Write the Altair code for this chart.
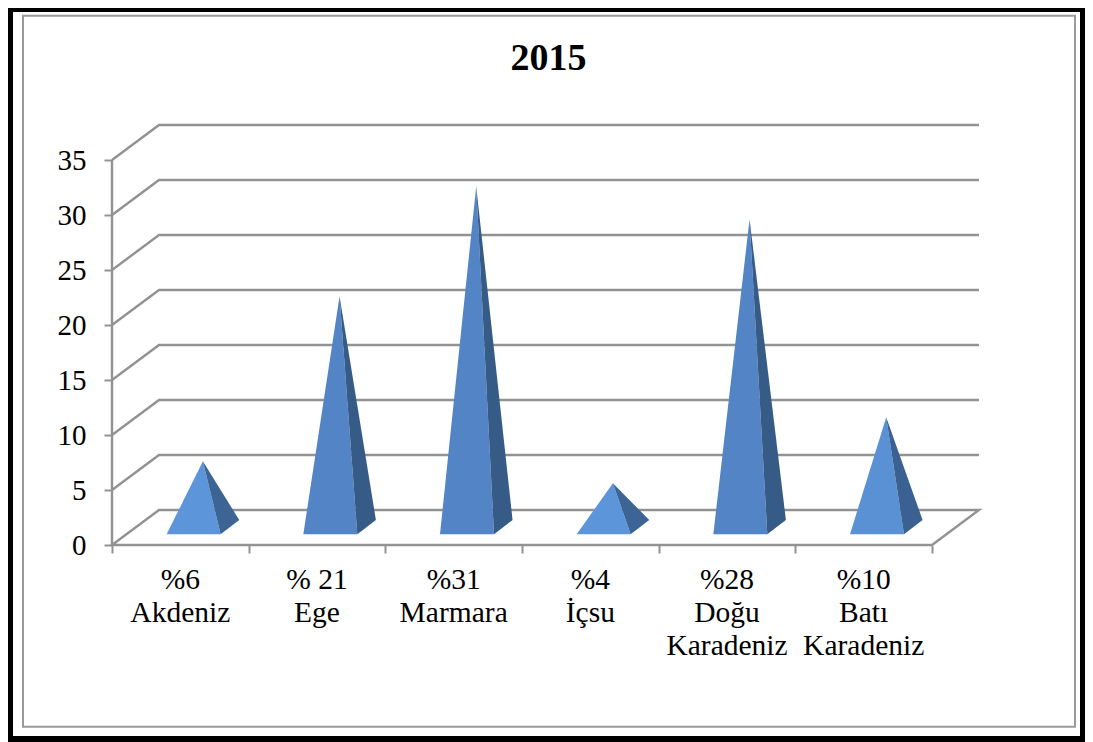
import altair as alt
import pandas as pd

names = ["Akdeniz", "Ege", "Marmara", "İçsu", "Doğu Karadeniz", "Batı Karadeniz"]
values = [6, 21, 31, 4, 28, 10]
labels = ["%6\nAkdeniz", "% 21\nEge", "%31\nMarmara", "%4\nİçsu", "%28\nDoğu\nKaradeniz", "%10\nBatı\nKaradeniz"]
y_ticks = [0, 5, 10, 15, 20, 25, 30, 35]
x_ticks = [0, 1, 2, 3, 4, 5, 6]
front_colors = ["#5c95d9", "#5284c6", "#5284c6", "#5c95d9", "#5284c6", "#5a90d4"]
side_colors = ["#3c6595", "#375b87", "#375b87", "#3c6595", "#375b87", "#3a6191"]

W, H = 1077, 734
UNIT_X, UNIT_Y = 410 / 3, 11
X0, Y0 = 104, 537
DX, DY = 47 / UNIT_X, 35 / UNIT_Y
FONT = "Liberation Serif"
GRAY = "#929292"

x_scale = alt.Scale(domain=[-X0 / UNIT_X, (W - X0) / UNIT_X], nice=False, zero=False)
y_scale = alt.Scale(domain=[(Y0 - H) / UNIT_Y, Y0 / UNIT_Y], nice=False, zero=False)

# Oblique wall and floor lines
wall = []
for v in y_ticks[1:]:
    for o, (xx, yy) in enumerate([(0, v), (DX, v + DY), (6 + DX, v + DY)]):
        wall.append({"g": f"w{v}", "o": o, "x": xx, "y": yy})
for o, (xx, yy) in enumerate([(0, 35), (0, 0), (6, 0), (6 + DX, DY), (DX, DY), (0, 0)]):
    wall.append({"g": "floor", "o": o, "x": xx, "y": yy})

# Pyramid faces
B_FRONT, B_BACK = 10.7 / UNIT_Y, 25 / UNIT_Y
B_MID = (B_FRONT + B_BACK) / 2
front, side = [], []
for i, (n, v) in enumerate(zip(names, values)):
    fl, fr, br, ax = i + 0.40, i + 0.795, i + 0.931, i + 0.665
    ay = v + B_MID
    for xx, yy in [(fl, B_FRONT), (ax, ay), (fr, B_FRONT)]:
        front.append({"n": n, "x": xx, "y": yy, "y2": B_FRONT})
    mid = ay + (B_BACK - ay) * (fr - ax) / (br - ax)
    for xx, yy, yy2 in [(ax, ay, ay), (fr, mid, B_FRONT), (br, B_BACK, B_BACK)]:
        side.append({"n": n, "x": xx, "y": yy, "y2": yy2})

X = alt.X("x:Q", scale=x_scale, title=None,
          axis=alt.Axis(values=x_ticks, offset=Y0 - H, domain=False, grid=False, labels=False,
                        tickSize=8, tickWidth=2, tickColor=GRAY, orient="bottom"))
Y = alt.Y("y:Q", scale=y_scale, title=None,
          axis=alt.Axis(values=y_ticks, offset=-X0, domain=False, grid=False, tickSize=8, tickWidth=2,
                        tickColor=GRAY, labelFont=FONT, labelFontSize=29, labelColor="black",
                        labelPadding=18, orient="left", format="d", labelOverlap=False, labelBound=False))

lines = alt.Chart(pd.DataFrame(wall)).mark_line(color=GRAY, strokeWidth=2.4, strokeJoin="miter").encode(
    x=X, y=Y, detail="g:N", order="o:Q")

front_layer = alt.Chart(pd.DataFrame(front)).mark_area(opacity=1).encode(
    x=X, y=Y, y2="y2:Q",
    color=alt.Color("n:N", scale=alt.Scale(domain=names, range=front_colors), legend=None))
side_layer = alt.Chart(pd.DataFrame(side)).mark_area(opacity=1).encode(
    x=X, y=Y, y2="y2:Q",
    fill=alt.Fill("n:N", scale=alt.Scale(domain=names, range=side_colors), legend=None))

label_df = pd.DataFrame({"x": [i + 0.5 for i in range(len(labels))], "t": labels})
label_layer = alt.Chart(label_df).mark_text(
    font=FONT, fontSize=29.5, lineBreak="\n", lineHeight=33, align="center",
    baseline="alphabetic", color="black").encode(
    x=X, y=alt.value(581), text="t:N")

one = pd.DataFrame({"a": [0]})
def band(x1, x2, y1, y2):
    return alt.Chart(one).mark_rect(color="black").encode(
        x=alt.value(x1), x2=alt.value(x2), y=alt.value(y1), y2=alt.value(y2))

frame = alt.Chart(one).mark_rect(fill="white", fillOpacity=0, stroke="#9a9a9a", strokeWidth=2).encode(
    x=alt.value(15), x2=alt.value(1067), y=alt.value(7.7), y2=alt.value(718.7))

chart = alt.layer(
    frame,
    band(0, 5, 0, H), band(W - 5, W, 0, H), band(0, W, 0, 4), band(0, W, H - 6, H),
    lines, front_layer, side_layer, label_layer,
).resolve_scale(color="independent", fill="independent").properties(
    width=W, height=H, padding=0, autosize=alt.AutoSizeParams(type="none"),
    title=alt.TitleParams("2015", font=FONT, fontSize=38, fontWeight="bold", color="black",
                          anchor="middle", baseline="alphabetic", offset=0, dy=100, dx=2),
).configure_view(stroke=None)

chart.save("out.html", embed_options={"renderer": "svg", "actions": False})
